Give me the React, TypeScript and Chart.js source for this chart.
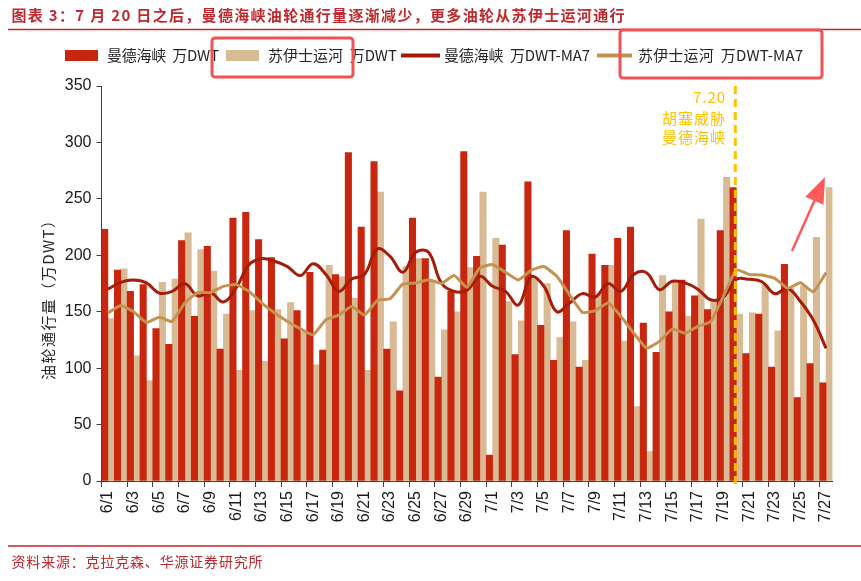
import React, { useEffect, useRef } from "react";
import { Chart, registerables } from "chart.js";
Chart.register(...registerables);

const categories = [
  "6/1","6/2","6/3","6/4","6/5","6/6","6/7","6/8","6/9","6/10",
  "6/11","6/12","6/13","6/14","6/15","6/16","6/17","6/18","6/19","6/20",
  "6/21","6/22","6/23","6/24","6/25","6/26","6/27","6/28","6/29","6/30",
  "7/1","7/2","7/3","7/4","7/5","7/6","7/7","7/8","7/9","7/10",
  "7/11","7/12","7/13","7/14","7/15","7/16","7/17","7/18","7/19","7/20",
  "7/21","7/22","7/23","7/24","7/25","7/26","7/27",
];

const mandeb = [
  223, 187, 168, 174, 135, 121, 213, 146, 208, 117,
  233, 238, 214, 198, 126, 151, 185, 116, 183, 291,
  225, 283, 117, 80, 233, 197, 92, 168, 292, 199,
  23, 209, 112, 265, 138, 107, 222, 101, 201, 191,
  215, 225, 140, 114, 150, 178, 164, 152, 222, 260,
  113, 148, 101, 192, 74, 104, 87,
];

const suez = [
  144, 188, 111, 89, 176, 179, 220, 205, 186, 148,
  98, 151, 106, 152, 158, 132, 103, 191, 181, 162,
  98, 256, 141, 190, 197, 178, 134, 150, 189, 256,
  215, 159, 142, 180, 175, 127, 141, 107, 165, 191,
  124, 66, 26, 182, 177, 146, 232, 160, 269, 148,
  149, 174, 133, 171, 173, 216, 260,
];

const mandebMA7 = [
  170, 176, 178, 175.5, 166.5, 168, 175, 164, 167, 158.6,
  171, 191.7, 197, 194.7, 190, 182, 192.6, 183, 168, 179,
  183, 205.6, 199, 185, 202.7, 202.7, 175.4, 168, 169, 181.4,
  172.5, 168, 156, 181, 172.5, 150, 157.7, 166, 163, 175,
  168, 183, 184.6, 169.5, 177, 175.5, 170, 160.6, 163, 178.7,
  178.7, 176.6, 166, 170.7, 159, 142.6, 117.5,
];

const suezMA7 = [
  148.8, 155.6, 150, 140.5, 145, 141.4, 157.7, 167, 167, 172.5,
  174, 168, 157.7, 148.8, 141.4, 135, 129.6, 143, 147, 154.7,
  147, 160, 161.5, 174.5, 175.4, 178.4, 175, 182, 171.6, 188.8,
  191.7, 185, 178.2, 186.7, 190, 181.4, 165, 149.4, 151, 157.7,
  146, 131, 117.8, 123.7, 134.6, 131, 137, 141.4, 164, 187,
  183, 182.5, 179.6, 170.7, 175.7, 167.7, 184.6,
];

const seriesLabels = [
  "曼德海峡  万DWT",
  "苏伊士运河  万DWT",
  "曼德海峡  万DWT-MA7",
  "苏伊士运河  万DWT-MA7",
];

const titleText = "图表 3：7 月 20 日之后，曼德海峡油轮通行量逐渐减少，更多油轮从苏伊士运河通行";
const sourceText = "资料来源：克拉克森、华源证券研究所";
const yTitleText = "油轮通行量（万DWT）";
const eventCategory = "7/20";
const eventLines = ["7.20", "胡塞威胁", "曼德海峡"];
const yMin = 0;
const yMax = 350;
const yStep = 50;

const RED = "#C8260E";
const TAN = "#D8BB95";
const RED_LINE = "#A51C0A";
const TAN_LINE = "#C4924F";
const ACCENT = "#C0282D";
const GOLD = "#FFC000";
const HILITE = "#F25252";
const CJK = '"Noto Sans CJK SC", "Noto Sans", sans-serif';

function drawFit(ctx: CanvasRenderingContext2D, text: string, x: number, y: number, w: number) {
  (ctx as any).letterSpacing = "0px";
  const m = ctx.measureText(text).width;
  const n = Array.from(text).length;
  const sp = n > 1 ? (w - m) / (n - 1) : 0;
  (ctx as any).letterSpacing = sp + "px";
  ctx.textAlign = "left";
  ctx.fillText(text, x, y);
  (ctx as any).letterSpacing = "0px";
}

const overlay = {
  id: "overlay",
  beforeDraw(chart: any) {
    const ctx = chart.ctx as CanvasRenderingContext2D;
    ctx.save();
    ctx.fillStyle = "#fff";
    ctx.fillRect(0, 0, chart.width, chart.height);
    ctx.restore();
  },
  afterDatasetsDraw(chart: any) {
    const ctx = chart.ctx as CanvasRenderingContext2D;
    const xs = chart.scales.x;
    const x = xs.getPixelForValue(categories.indexOf(eventCategory)) - 1;
    ctx.save();
    ctx.strokeStyle = GOLD;
    ctx.lineWidth = 3;
    ctx.setLineDash([8, 5]);
    ctx.beginPath();
    ctx.moveTo(x, chart.chartArea.top);
    ctx.lineTo(x, chart.chartArea.bottom + 8);
    ctx.stroke();
    ctx.restore();
  },
  afterDraw(chart: any) {
    const ctx = chart.ctx as CanvasRenderingContext2D;
    ctx.save();
    // title
    ctx.fillStyle = ACCENT;
    ctx.textBaseline = "middle";
    ctx.font = `bold 15px ${CJK}`;
    drawFit(ctx, titleText, 11.5, 15.5, 613);
    // rules
    ctx.strokeStyle = ACCENT;
    ctx.lineWidth = 1.5;
    ctx.beginPath();
    ctx.moveTo(8, 29.5);
    ctx.lineTo(861, 29.5);
    ctx.moveTo(8, 546);
    ctx.lineTo(861, 546);
    ctx.stroke();
    // source
    ctx.font = `14px ${CJK}`;
    ctx.fillStyle = ACCENT;
    drawFit(ctx, sourceText, 11.5, 561.5, 251);

    // legend
    const ly = 55.5;
    ctx.fillStyle = RED;
    ctx.fillRect(65, 50, 33, 11);
    ctx.fillStyle = TAN;
    ctx.fillRect(226, 50, 33, 11);
    ctx.lineWidth = 4;
    ctx.strokeStyle = RED_LINE;
    ctx.beginPath();
    ctx.moveTo(401, ly);
    ctx.lineTo(440, ly);
    ctx.stroke();
    ctx.strokeStyle = TAN_LINE;
    ctx.beginPath();
    ctx.moveTo(597, ly);
    ctx.lineTo(632, ly);
    ctx.stroke();
    ctx.font = `15px ${CJK}`;
    ctx.fillStyle = "#262626";
    drawFit(ctx, seriesLabels[0], 107, ly, 112);
    drawFit(ctx, seriesLabels[1], 268, ly, 129);
    drawFit(ctx, seriesLabels[2], 444, ly, 146);
    drawFit(ctx, seriesLabels[3], 638, ly, 165);
    // highlight boxes
    ctx.strokeStyle = HILITE;
    ctx.lineWidth = 3;
    ctx.beginPath();
    (ctx as any).roundRect(212, 38, 141, 39, 3);
    ctx.stroke();
    ctx.beginPath();
    (ctx as any).roundRect(620, 30, 202, 48, 3);
    ctx.stroke();

    // y title
    ctx.save();
    ctx.translate(48, 296.5);
    ctx.rotate(-Math.PI / 2);
    ctx.font = `15px ${CJK}`;
    ctx.fillStyle = "#262626";
    drawFit(ctx, yTitleText, -83.5, 0, 167);
    ctx.restore();

    // event annotation
    ctx.font = `15px ${CJK}`;
    ctx.fillStyle = GOLD;
    drawFit(ctx, eventLines[0], 693, 97.5, 32);
    drawFit(ctx, eventLines[1], 662, 118.5, 63);
    drawFit(ctx, eventLines[2], 662, 137.5, 63);

    // arrow
    const x0 = 792, y0 = 251, x1 = 825, y1 = 177;
    const ang = Math.atan2(y1 - y0, x1 - x0);
    const hl = 26, hw = 10;
    const bx = x1 - hl * Math.cos(ang), by = y1 - hl * Math.sin(ang);
    ctx.strokeStyle = "#FF5A5A";
    ctx.fillStyle = "#FF5A5A";
    ctx.lineWidth = 2.5;
    ctx.beginPath();
    ctx.moveTo(x0, y0);
    ctx.lineTo(bx + 3 * Math.cos(ang), by + 3 * Math.sin(ang));
    ctx.stroke();
    ctx.beginPath();
    ctx.moveTo(x1, y1);
    ctx.lineTo(bx + hw * Math.sin(ang), by - hw * Math.cos(ang));
    ctx.lineTo(bx - hw * Math.sin(ang), by + hw * Math.cos(ang));
    ctx.closePath();
    ctx.fill();
    ctx.restore();
  },
};

export default function App() {
  const ref = useRef<HTMLCanvasElement>(null);
  useEffect(() => {
    if (!ref.current) return;
    const chart = new Chart(ref.current, {
      type: "bar",
      data: {
        labels: categories,
        datasets: [
          { type: "line", label: seriesLabels[2], data: mandebMA7, borderColor: RED_LINE, borderWidth: 3, pointRadius: 0, tension: 0.4, order: 1 } as any,
          { type: "line", label: seriesLabels[3], data: suezMA7, borderColor: TAN_LINE, borderWidth: 3, pointRadius: 0, tension: 0.15, order: 0 } as any,
          { type: "bar", label: seriesLabels[0], data: mandeb, backgroundColor: RED, barPercentage: 1, categoryPercentage: 1, order: 3 },
          { type: "bar", label: seriesLabels[1], data: suez, backgroundColor: TAN, barPercentage: 1, categoryPercentage: 1, order: 3 },
        ],
      },
      options: {
        responsive: false,
        animation: false,
        events: [],
        layout: { padding: { top: 86, right: 28.5, left: 0, bottom: 0 } },
        plugins: {
          legend: { display: false },
          title: { display: false },
          tooltip: { enabled: false },
        },
        scales: {
          x: {
            offset: true,
            grid: {
              offset: true,
              drawOnChartArea: false,
              tickLength: 6,
              color: (c: any) => (c.index % 2 === 0 ? "#404040" : "rgba(0,0,0,0)"),
            },
            border: { color: "#404040", width: 1 },
            ticks: {
              autoSkip: false,
              minRotation: 90,
              maxRotation: 90,
              padding: 4,
              color: "#1a1a1a",
              font: { family: "Liberation Sans", size: 16 },
              callback: (_v: any, i: number) => (i % 2 === 0 ? categories[i] : ""),
            },
            afterFit: (s: any) => { s.height = 100; },
          },
          y: {
            min: yMin,
            max: yMax,
            grid: { drawOnChartArea: false, tickLength: 5, color: "#404040" },
            border: { color: "#404040", width: 1 },
            ticks: {
              stepSize: yStep,
              padding: 5,
              color: "#1a1a1a",
              font: { family: "Liberation Sans", size: 16 },
            },
            afterFit: (s: any) => { s.width = 101.5; },
          },
        },
      } as any,
      plugins: [overlay],
    });
    return () => chart.destroy();
  }, []);
  return (
    <div style={{ position: "absolute", left: 0, top: 0, width: 861, height: 581, background: "#fff" }}>
      <canvas ref={ref} width={861} height={581} style={{ width: 861, height: 581, display: "block" }} />
    </div>
  );
}
